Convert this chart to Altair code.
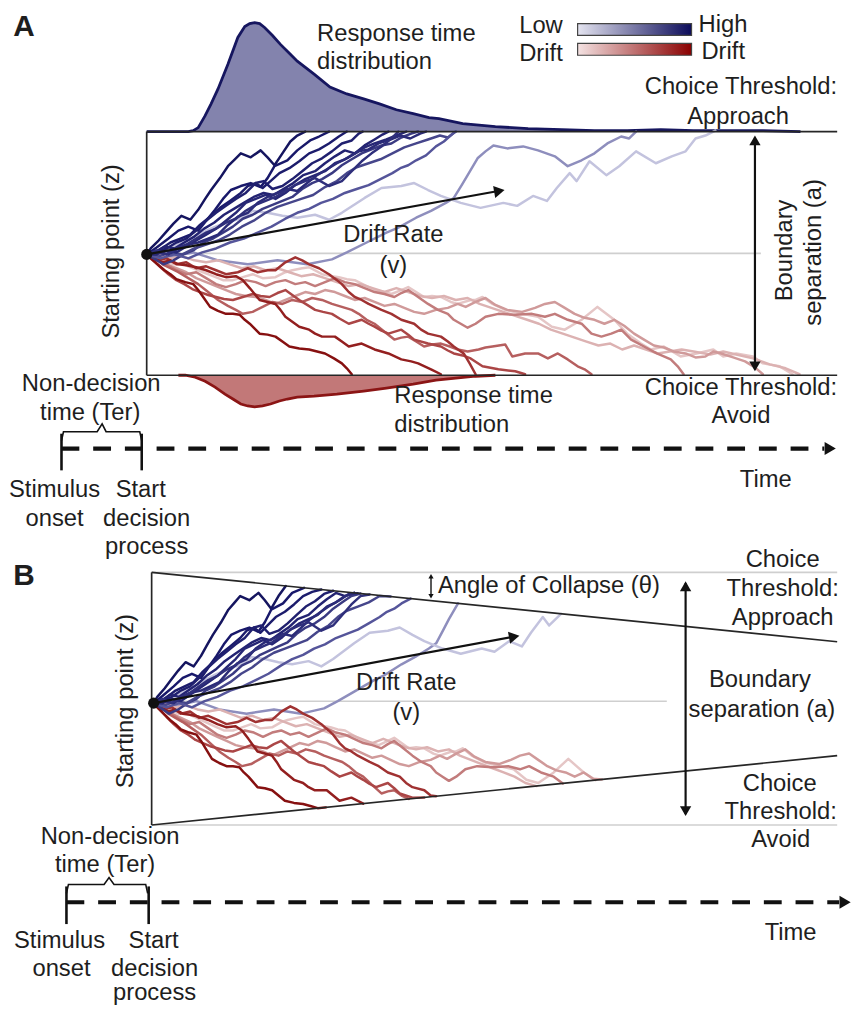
import altair as alt
import pandas as pd

# ---------------- data (diagram units) ----------------
# Response-time distributions of panel A
BLUE_RT_X = [148, 190, 195, 200, 207, 213, 220, 230, 240, 247, 252, 257, 262, 267, 275, 283, 292, 300, 317, 333,
             350, 367, 383, 400, 417, 433, 443, 467, 500, 533, 567, 600, 633, 667, 700, 733, 770, 808]
BLUE_RT_Y = [128, 128, 127, 124, 112, 100, 85, 60, 33, 22, 19, 18, 19, 23, 31, 40, 49, 57, 70, 83,
             90, 95, 100, 106, 110, 114, 115, 120, 123, 125, 126, 127, 127, 126, 127, 127, 127, 128]
RED_RT_X = [180, 187, 197, 207, 217, 227, 235, 243, 250, 257, 265, 273, 282, 290, 300, 317, 340, 367, 390, 417,
            440, 460, 480, 500]
RED_RT_Y = [374, 374, 376, 380, 386, 393, 398, 403, 405, 406, 405, 403, 400, 398, 396, 395, 393, 390, 387, 383,
            379, 377, 375, 374]

# Evidence-accumulation paths (panel A frame); panel B re-uses them with collapsing bounds
BLUE_DARK = [
    [(148,252),(152,246),(160,238),(167,230),(175,221),(183,213),(192,217),(200,207),(207,196),(213,187),(222,175),
     (230,163),(237,156),(243,150),(253,154),(263,147),(270,154),(277,162),(285,150),(293,138),(300,132),(308,128)],
    [(148,252),(158,245),(170,236),(180,228),(190,224),(200,228),(208,218),(217,207),(225,196),(233,187),(243,183),
     (253,180),(263,184),(270,175),(277,163),(290,157),(300,147),(313,137),(322,133),(332,128)],
    [(148,252),(160,248),(172,240),(182,236),(192,232),(202,222),(212,214),(222,205),(232,198),(243,190),(250,183),
     (258,180),(265,185),(273,178),(282,170),(292,165),(302,158),(312,150),(322,146),(332,140),(342,133),(350,128)],
    [(148,252),(158,250),(168,246),(178,240),(188,236),(198,228),(208,218),(218,210),(228,203),(238,196),(248,190),
     (258,180),(266,178),(275,186),(285,183),(295,176),(305,168),(315,160),(325,155),(335,148),(345,140),(355,137),
     (362,130),(366,128)],
    [(148,252),(156,250),(166,244),(176,246),(186,240),(196,234),(206,226),(216,220),(226,212),(236,206),(246,200),
     (256,194),(266,190),(276,192),(286,186),(296,180),(306,172),(318,168),(328,160),(338,153),(348,147),(358,150),
     (368,142),(378,136),(386,131),(392,128)],
    [(148,252),(158,252),(168,248),(178,250),(188,244),(198,238),(208,232),(218,226),(228,218),(238,210),(248,200),
     (258,196),(268,192),(278,196),(288,190),(298,182),(308,176),(318,172),(328,168),(338,160),(348,156),(358,150),
     (368,144),(378,140),(390,136),(400,132),(410,128)],
    [(148,252),(160,250),(170,252),(180,246),(190,242),(200,240),(210,236),(220,232),(230,222),(240,214),(250,210),
     (260,200),(270,194),(280,190),(290,186),(300,188),(310,180),(320,172),(330,166),(340,160),(352,154),(362,148),
     (372,146),(382,140),(394,136),(404,132),(414,135),(424,130),(430,128)],
    [(148,252),(158,248),(168,252),(178,246),(188,242),(198,236),(208,230),(218,226),(228,220),(238,216),(248,208),
     (258,202),(268,198),(278,194),(288,188),(298,182),(308,178),(318,175),(332,183),(345,178),(355,168),(365,158),
     (375,150),(385,143),(395,135),(402,128)],
]
BLUE_MID = [
    [(148,252),(155,256),(165,262),(175,258),(185,252),(195,248),(205,240),(215,236),(225,230),(235,224),(245,216),
     (255,212),(265,206),(275,202),(285,198),(295,194),(305,186),(315,180),(325,176),(335,170),(345,162),(355,156),
     (365,150),(375,146),(385,142),(395,140),(405,134),(415,130),(422,128)],
    [(148,252),(160,254),(172,250),(184,252),(196,246),(208,242),(220,238),(232,232),(244,224),(256,218),(268,210),
     (280,204),(292,200),(304,196),(316,192),(328,184),(340,178),(350,170),(360,164),(372,160),(384,156),(396,150),
     (408,144),(420,140),(432,136),(444,132),(452,134),(460,128)],
    [(148,252),(162,256),(176,252),(190,256),(204,250),(218,246),(232,240),(246,236),(260,230),(274,224),(288,216),
     (300,210),(312,206),(324,200),(336,196),(348,190),(360,186),(372,182),(384,176),(396,170),(404,165),(412,162),
     (420,157),(430,152),(440,143),(448,138),(457,130),(460,128)],
]
BLUE_LIGHT = [
    [(148,252),(170,255),(195,250),(220,258),(250,262),(280,258),(310,262),(335,257),(350,250),(370,240),(390,230),
     (402,225),(420,215),(435,208),(450,200),(458,195),(466,182),(472,172),(482,155),(490,148),(498,142),(512,145),
     (528,143),(543,147),(560,153),(573,163),(587,157),(600,150),(613,140),(627,133),(635,135),(642,128)],
    [(148,252),(165,248),(185,240),(200,232),(215,225),(228,220),(245,215),(255,208),(270,210),(285,213),(300,215),
     (318,212),(332,217),(345,210),(368,195),(385,185),(405,183),(418,180),(432,187),(445,193),(465,200),(485,205),
     (508,200),(522,203),(538,193),(552,198),(562,185),(575,170),(582,178),(595,158),(612,172),(625,163),(642,148),
     (662,160),(678,153),(692,148),(702,135),(712,132),(722,127)],
]
RED_PATHS = [
    [(148,252),(156,254),(165,258),(175,262),(185,262),(195,266),(205,270),(215,274),(225,278),(235,278),(245,275),
     (255,272),(265,276),(278,275),(288,270),(295,268),(305,266),(312,265),(325,272),(335,274),(342,275),(350,277),
     (358,278),(368,283),(378,288),(388,290),(395,292),(405,288),(412,285),(420,290),(428,295),(436,294),(445,295),
     (455,300),(462,302),(475,298),(480,298),(487,295),(497,302),(510,308),(527,312),(543,315),(557,325),(570,328),
     (587,318),(603,305),(612,312),(620,318),(633,332),(647,342),(657,348),(670,345),(687,355),(703,352),(720,348),
     (730,355),(743,352),(760,355),(770,362),(787,365),(800,373)],
    [(148,252),(160,252),(172,256),(184,254),(196,258),(208,260),(220,258),(232,262),(244,266),(256,264),(268,268),
     (280,266),(292,270),(304,274),(316,272),(328,276),(340,280),(352,284),(364,282),(376,286),(388,290),(400,286),
     (412,290),(424,294),(436,296),(448,294),(460,298),(472,296),(484,302),(496,306),(508,310),(520,314),(532,318),
     (544,322),(556,328),(568,332),(580,336),(592,340),(604,344),(616,342),(628,348),(640,344),(652,348),(664,352),
     (676,350),(688,348),(700,350),(717,353),(730,350),(743,353),(760,357),(777,363),(793,367),(807,373)],
    [(148,252),(158,257),(168,262),(178,266),(188,270),(198,276),(208,280),(218,284),(228,288),(238,292),(248,294),
     (258,295),(268,298),(278,302),(288,298),(298,294),(308,290),(318,292),(328,288),(338,290),(348,294),(358,298),
     (368,296),(378,300),(388,304),(398,302),(408,306),(418,310),(428,312),(440,308),(452,306),(462,302),(470,305),
     (480,300),(490,296),(500,303),(512,308),(527,310),(540,306),(550,302),(560,300),(570,306),(580,312),(590,316),
     (600,318),(610,322),(620,318),(630,324),(640,332),(650,338),(660,344),(670,346),(680,350),(692,352),(702,356),
     (712,355),(720,350),(728,352),(740,356),(752,360),(762,366),(770,373)],
    [(148,252),(158,256),(168,262),(178,268),(188,272),(198,270),(208,276),(218,282),(228,285),(238,282),(248,278),
     (258,280),(268,284),(278,280),(288,278),(298,282),(308,280),(318,284),(328,280),(338,276),(348,280),(358,282),
     (368,286),(378,290),(388,292),(398,295),(405,291),(412,288),(422,295),(432,302),(442,308),(452,312),(458,318),
     (465,322),(472,326),(480,322),(490,315),(503,312),(520,313),(537,312),(550,315),(560,312),(573,318),(587,322),
     (597,332),(607,335),(617,332),(627,328),(637,338),(650,345),(663,352),(677,358),(684,365),(690,373)],
    [(148,252),(156,255),(164,262),(172,266),(180,270),(190,276),(200,282),(210,290),(220,298),(230,304),(238,308),
     (245,312),(255,310),(265,305),(275,300),(285,302),(295,298),(305,300),(315,296),(325,298),(335,302),(345,305),
     (355,308),(362,312),(370,318),(378,322),(388,330),(398,338),(405,336),(412,335),(420,340),(428,345),(436,343),
     (445,342),(454,345),(462,348),(472,350),(483,348),(490,346),(497,345),(510,343),(517,355),(530,352),(543,352),
     (553,357),(563,352),(573,358),(583,365),(590,368),(597,373)],
    [(148,252),(155,258),(162,265),(170,272),(178,278),(186,282),(194,287),(202,290),(210,293),(218,295),(226,297),
     (235,298),(245,295),(255,292),(263,294),(272,295),(280,291),(288,288),(295,293),(302,298),(310,303),(318,308),
     (326,310),(335,312),(343,317),(352,322),(365,318),(372,322),(378,325),(385,329),(392,332),(405,328),(412,333),
     (418,338),(432,342),(445,345),(452,349),(458,352),(467,354),(475,357),(487,365),(503,368),(520,370),(530,373)],
    [(148,252),(158,258),(168,256),(178,262),(188,260),(198,266),(208,264),(218,268),(228,272),(240,270),(250,266),
     (260,270),(270,268),(278,268),(288,260),(298,255),(305,258),(312,262),(322,266),(332,272),(340,278),(345,282),
     (352,290),(358,295),(365,298),(372,302),(385,308),(395,312),(405,318),(418,322),(425,328),(432,332),(445,335),
     (452,340),(458,345),(468,352),(474,362),(480,373)],
    [(148,252),(156,256),(164,260),(172,258),(180,262),(188,263),(198,265),(208,268),(218,272),(228,275),(238,274),
     (245,278),(252,286),(262,298),(270,300),(278,302),(283,308),(288,315),(295,320),(302,325),(312,328),(318,332),
     (325,335),(338,335),(345,340),(352,345),(365,342),(378,348),(392,352),(405,358),(415,360),(422,362),(435,368),
     (445,373)],
    [(148,252),(153,257),(160,263),(166,268),(172,272),(178,277),(187,280),(195,282),(200,288),(205,295),(212,305),
     (220,309),(228,312),(235,312),(242,313),(247,318),(252,322),(257,327),(262,332),(270,333),(278,335),(285,340),
     (292,345),(302,347),(312,348),(320,350),(328,352),(337,357),(345,362),(350,367),(355,373)],
]
BLUE_DARK_COLORS = ["#15155f", "#18186a", "#1c1c6c", "#20206f", "#232372", "#272775", "#2b2b78", "#2f2f7b"]
BLUE_MID_COLORS = ["#3a3a82", "#46468b", "#55559a"]
BLUE_LIGHT_COLORS = ["#8e8ebd", "#c3c3de"]
RED_COLORS = ["#e5c6c6", "#dcb2b2", "#d09a9a", "#c27c7c", "#b65f5f", "#ab4646", "#a03232", "#931f1f", "#861010"]

LEGEND_LABELS = ["Low", "Drift", "High", "Drift"]

# ---------------- helpers ----------------
W, H = 855, 1000
xs = alt.Scale(domain=[8, 8 + W], nice=False, zero=False)
ys = alt.Scale(domain=[8, 8 + H], nice=False, zero=False, reverse=True)
FONT = "Liberation Sans"
TXT = "#1e1e1e"
FS = 24


def X(f="x"):
    return alt.X(f"{f}:Q", scale=xs, axis=None)


def Y(f="y"):
    return alt.Y(f"{f}:Q", scale=ys, axis=None)


def paths_df(paths, colors, prefix):
    rows = []
    for i, (pts, c) in enumerate(zip(paths, colors)):
        for j, (x, y) in enumerate(pts):
            rows.append(dict(path=f"{prefix}{i:02d}", order=j, x=x, y=y, color=c))
    return pd.DataFrame(rows)


SLOPE = 70 / 692


def to_b(pts):
    out = []
    for x, y in pts:
        xb = 155 + (x - 148) * 0.92
        yb = 705 + (y - 252) * 1.06
        t = 573 + (xb - 153) * SLOPE
        b = 828 - (xb - 153) * SLOPE
        if yb <= t:
            out.append((xb, t))
            break
        if yb >= b:
            out.append((xb, b))
            break
        out.append((xb, yb))
    return out


def path_layer(df, width=2.5):
    return alt.Chart(df).mark_line(strokeWidth=width, strokeJoin="round", strokeCap="round").encode(
        x=X(), y=Y(), detail="path:N", order="order:Q", color=alt.Color("color:N", scale=None))


def segs(rows, **kw):
    df = pd.DataFrame(rows, columns=["x", "y", "x2", "y2"])
    return alt.Chart(df).mark_rule(**kw).encode(x=X(), y=Y(), x2="x2:Q", y2="y2:Q")


def heads(rows, shape, size, angle=0, color="#111111"):
    df = pd.DataFrame(rows, columns=["x", "y"])
    return alt.Chart(df).mark_point(shape=shape, size=size, angle=angle, filled=True, opacity=1,
                                    color=color, strokeWidth=0).encode(x=X(), y=Y())


def texts(rows, align="center", size=FS, weight="normal", angle=0):
    df = pd.DataFrame(rows, columns=["t", "x", "y"])
    return alt.Chart(df).mark_text(align=align, baseline="middle", font=FONT, fontSize=size,
                                   fontWeight=weight, angle=angle, color=TXT).encode(
        x=X(), y=Y(), text="t:N")


layers = []

# ---- RT distributions (panel A) ----
blue_rt = pd.DataFrame({"x": BLUE_RT_X, "y": BLUE_RT_Y, "base": [128] * len(BLUE_RT_X)})
red_rt = pd.DataFrame({"x": RED_RT_X, "y": RED_RT_Y, "base": [374] * len(RED_RT_X)})
layers.append(alt.Chart(blue_rt).mark_area(color="#8383ad", opacity=1).encode(x=X(), y=Y(), y2="base:Q"))
layers.append(alt.Chart(blue_rt).mark_line(color="#16165f", strokeWidth=2.8).encode(x=X(), y=Y()))
layers.append(alt.Chart(red_rt).mark_area(color="#c27878", opacity=1).encode(x=X(), y=Y(), y2="base:Q"))
layers.append(alt.Chart(red_rt).mark_line(color="#8b1515", strokeWidth=2.8).encode(x=X(), y=Y()))

# ---- gray reference lines ----
layers.append(segs([(148, 251, 768, 251), (153, 573, 845, 573), (153, 828, 845, 828), (153, 703, 673, 703)],
                   color="#cfcfcf", strokeWidth=1.6))

# ---- paths: panel A ----
for grp, cols, name in [(BLUE_LIGHT, BLUE_LIGHT_COLORS, "bl"), (RED_PATHS, RED_COLORS, "r"),
                        (BLUE_MID, BLUE_MID_COLORS, "bm"), (BLUE_DARK, BLUE_DARK_COLORS, "bd")]:
    layers.append(path_layer(paths_df(grp, cols, name)))
# ---- paths: panel B ----
for grp, cols, name in [(BLUE_LIGHT, BLUE_LIGHT_COLORS, "bl"), (RED_PATHS, RED_COLORS, "r"),
                        (BLUE_MID, BLUE_MID_COLORS, "bm"), (BLUE_DARK, BLUE_DARK_COLORS, "bd")]:
    layers.append(path_layer(paths_df([to_b(p) for p in grp], cols, name)))

# ---- boundaries ----
layers.append(segs([(148, 128, 845, 128), (148, 374, 845, 374), (148, 128, 148, 374),
                    (153, 573, 153, 828), (153, 573, 845, 643), (153, 828, 845, 758)],
                   color="#262626", strokeWidth=1.7))

# ---- arrows ----
layers.append(segs([(148, 252, 503, 188), (762, 134, 762, 368), (155, 705, 518, 638), (692, 584, 692, 817)],
                   color="#111111", strokeWidth=2.2))
layers.append(segs([(435, 578, 435, 596)], color="#111111", strokeWidth=1.4))
layers.append(heads([(504, 188), (519, 638)], "triangle-right", 150, angle=350))
layers.append(heads([(762, 137), (692, 587)], "triangle-up", 130))
layers.append(heads([(762, 365), (692, 814)], "triangle-down", 130))
layers.append(heads([(435, 577)], "triangle-up", 28))
layers.append(heads([(435, 597)], "triangle-down", 28))
layers.append(heads([(148, 252), (155, 705)], "circle", 125))

# ---- time lines ----
layers.append(segs([(62, 448, 832, 448), (67, 906, 847, 906)], color="#111111", strokeWidth=4.2,
                   strokeDash=[18, 14]))
layers.append(heads([(838, 448), (853, 906)], "triangle-right", 170))
layers.append(segs([(62, 433, 62, 470), (143, 433, 143, 470), (67, 890, 67, 928), (150, 890, 150, 928)],
                   color="#111111", strokeWidth=2.6))
brace = pd.DataFrame(
    [dict(b="A", o=i, x=x, y=y) for i, (x, y) in enumerate(
        [(62, 440), (64, 431), (98, 431), (103, 423), (107, 431), (141, 431), (143, 440)])] +
    [dict(b="B", o=i, x=x, y=y) for i, (x, y) in enumerate(
        [(67, 897), (69, 888), (105, 888), (110, 881), (115, 888), (147, 888), (149, 897)])])
layers.append(alt.Chart(brace).mark_line(color="#111111", strokeWidth=1.6).encode(
    x=X(), y=Y(), detail="b:N", order="o:Q"))

# ---- legend gradient bars ----
bars = pd.DataFrame({"x": [583], "x2": [698], "y": [19], "y2": [31]})
bars_r = pd.DataFrame({"x": [583], "x2": [698], "y": [39], "y2": [51]})
blue_grad = alt.LinearGradient(gradient="linear", x1=0, x2=1, y1=0, y2=0,
                               stops=[alt.GradientStop(color="#e4e4f0", offset=0),
                                      alt.GradientStop(color="#0c0c5a", offset=1)])
red_grad = alt.LinearGradient(gradient="linear", x1=0, x2=1, y1=0, y2=0,
                              stops=[alt.GradientStop(color="#f4e2e2", offset=0),
                                     alt.GradientStop(color="#8a0000", offset=1)])
layers.append(alt.Chart(bars).mark_rect(fill=blue_grad, stroke="#444444", strokeWidth=1.2).encode(
    x=X(), x2="x2:Q", y=Y(), y2="y2:Q"))
layers.append(alt.Chart(bars_r).mark_rect(fill=red_grad, stroke="#444444", strokeWidth=1.2).encode(
    x=X(), x2="x2:Q", y=Y(), y2="y2:Q"))

# ---- texts ----
layers.append(texts([("A", 24, 23), ("B", 24, 577)], size=30, weight="bold"))
layers.append(texts([
    ("Response time", 320, 30), ("distribution", 320, 58),
    (LEGEND_LABELS[0], 524, 22), (LEGEND_LABELS[1], 524, 50),
    (LEGEND_LABELS[2], 705, 20), (LEGEND_LABELS[3], 708, 48),
    ("Response time", 398, 395), ("distribution", 398, 424),
    ("Angle of Collapse (θ)", 442, 587),
], align="left"))
layers.append(texts([("Choice Threshold:", 845, 83), ("Choice Threshold:", 845, 387)], align="right"))
layers.append(texts([
    ("Approach", 745, 113), ("Avoid", 748, 415),
    ("Drift Rate", 397, 232), ("(v)", 397, 264),
    ("Non-decision", 92, 383), ("time (Ter)", 91, 412),
    ("Stimulus", 55, 490), ("onset", 55, 519), ("Start", 142, 490), ("decision", 148, 519), ("process", 148, 547),
    ("Time", 773, 480),
    ("Choice", 790, 561), ("Threshold:", 790, 590), ("Approach", 790, 619),
    ("Drift Rate", 410, 685), ("(v)", 410, 715),
    ("Boundary", 767, 682), ("separation (a)", 769, 712),
    ("Choice", 787, 787), ("Threshold:", 788, 815), ("Avoid", 788, 843),
    ("Non-decision", 111, 840), ("time (Ter)", 106, 868),
    ("Stimulus", 60, 945), ("onset", 62, 973), ("Start", 155, 945), ("decision", 156, 973), ("process", 156, 998),
    ("Time", 798, 937),
]))
layers.append(texts([
    ("Starting point (z)", 113, 249), ("Boundary", 792, 248), ("separation (a)", 822, 250),
    ("Starting point (z)", 127, 703),
], angle=270))

chart = alt.layer(*layers).properties(
    width=W, height=H, padding=0, autosize="none"
).configure_view(stroke=None)

chart.save("out.html", embed_options={"renderer": "svg", "actions": False})
